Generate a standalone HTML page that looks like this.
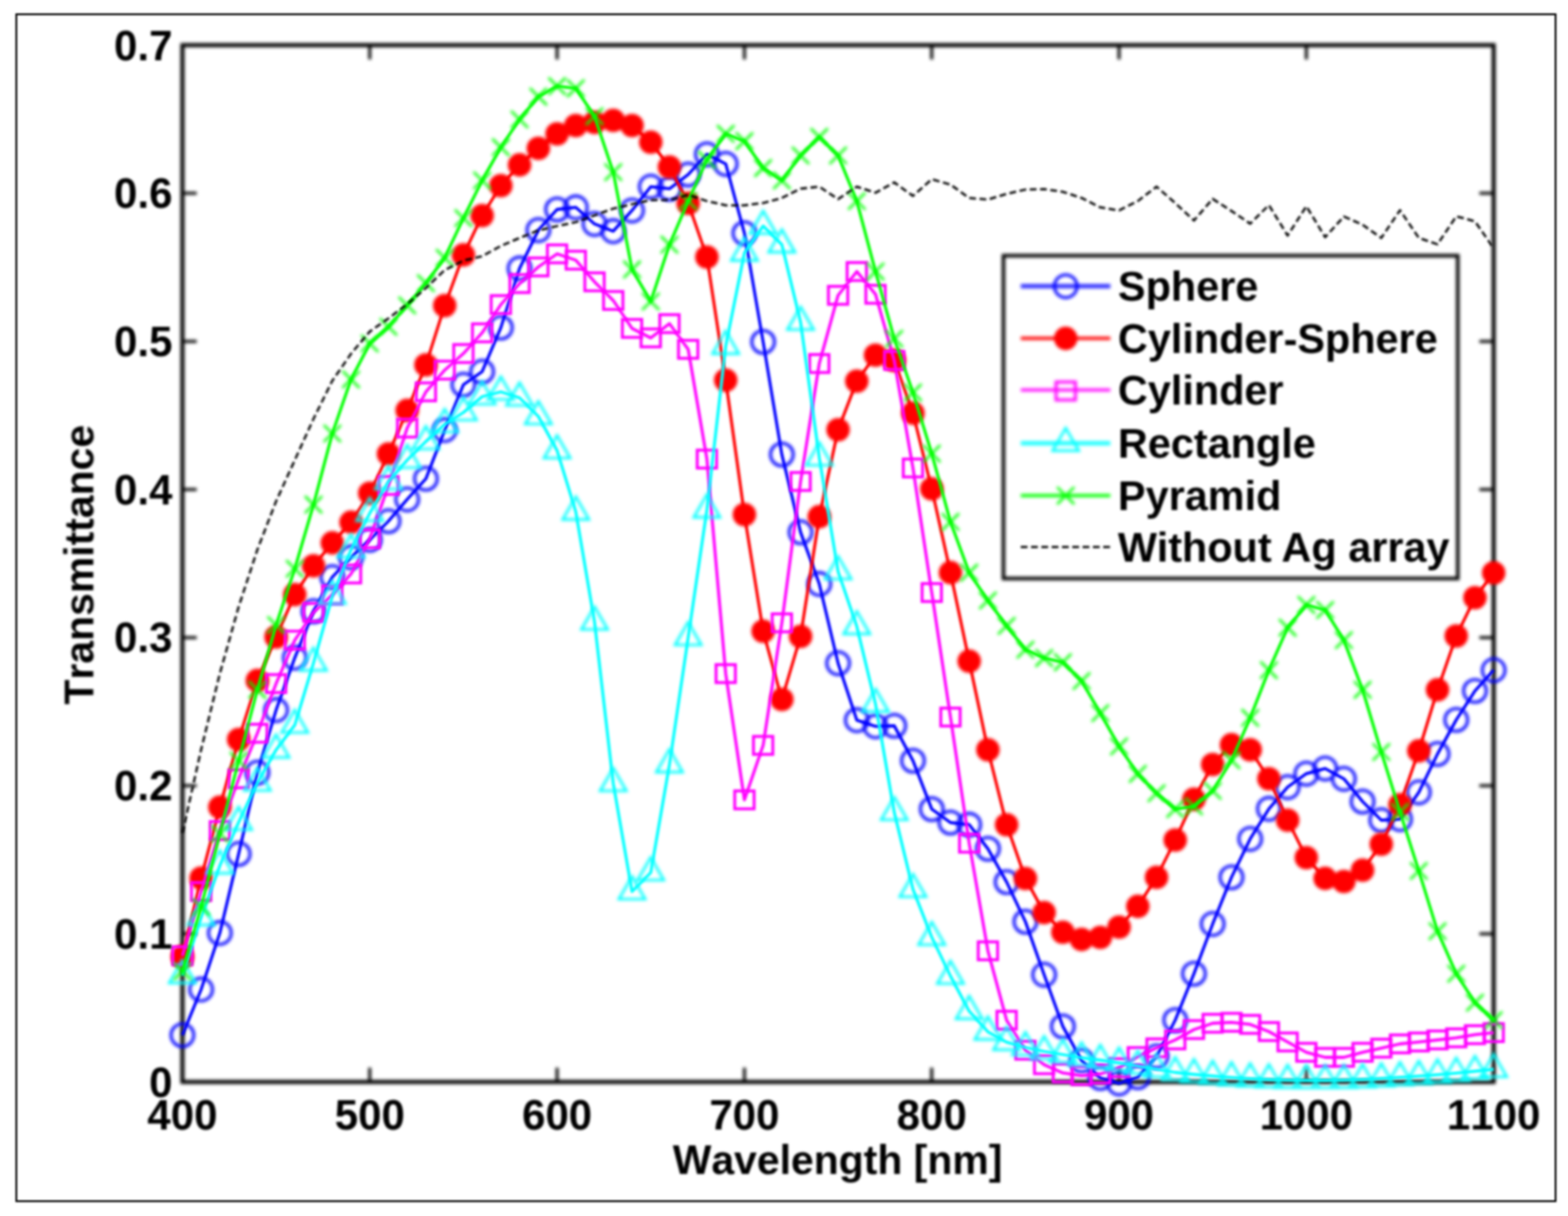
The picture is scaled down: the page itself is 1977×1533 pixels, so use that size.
<!DOCTYPE html>
<html lang="en">
<head>
<meta charset="utf-8">
<title>Transmittance vs Wavelength</title>
<style>
html,body{margin:0;padding:0;background:#fff;}
body{width:1977px;height:1533px;overflow:hidden;}
svg{display:block;}
text{font-family:"Liberation Sans",sans-serif;font-weight:bold;fill:#000;font-kerning:none;}
.tk{font-size:53.0px;}.tt{font-size:51.6px;}.lg{font-size:52.2px;}
.ln{fill:none;stroke-width:3.8;stroke-linejoin:round;stroke-linecap:butt;}
.mk{fill:none;}
.b{stroke:#0000ff;}.r{stroke:#ff0000;}.m{stroke:#ff00ff;}.c{stroke:#00ffff;}.g{stroke:#00ff00;}.k{stroke:#000;}
</style>
</head>
<body>
<svg width="1977" height="1533" viewBox="0 0 1977 1533">
<defs>
<filter id="fd" filterUnits="userSpaceOnUse" x="0" y="0" width="1977" height="1533" color-interpolation-filters="sRGB"><feGaussianBlur stdDeviation="1.9"/></filter>
<filter id="fl" filterUnits="userSpaceOnUse" x="0" y="0" width="1977" height="1533" color-interpolation-filters="sRGB"><feGaussianBlur stdDeviation="1.75"/></filter>
<filter id="fs" filterUnits="userSpaceOnUse" x="0" y="0" width="1977" height="1533" color-interpolation-filters="sRGB"><feGaussianBlur stdDeviation="1.5"/></filter>
<filter id="fa" filterUnits="userSpaceOnUse" x="0" y="0" width="1977" height="1533" color-interpolation-filters="sRGB"><feGaussianBlur stdDeviation="1.9"/></filter>
<filter id="ft" filterUnits="userSpaceOnUse" x="0" y="0" width="1977" height="1533" color-interpolation-filters="sRGB"><feGaussianBlur stdDeviation="1.5"/></filter>
<filter id="ff" filterUnits="userSpaceOnUse" x="0" y="0" width="1977" height="1533" color-interpolation-filters="sRGB"><feGaussianBlur stdDeviation="1.0"/></filter>
<filter id="fk" filterUnits="userSpaceOnUse" x="0" y="0" width="1977" height="1533" color-interpolation-filters="sRGB"><feGaussianBlur stdDeviation="1.6"/></filter>
</defs>
<rect x="0" y="0" width="1977" height="1533" fill="#fff"/>
<g id="frame" filter="url(#ff)"><rect x="20.6" y="18.0" width="1940.7" height="1496.3" fill="none" stroke="#000" stroke-width="2.3"/></g>
<g id="axes" filter="url(#fa)">
<g class="k" fill="none" stroke-width="3.6">
<line x1="466.2" y1="1364.0" x2="466.2" y2="1346"/>
<line x1="466.2" y1="56.9" x2="466.2" y2="74.9"/>
<line x1="702.4" y1="1364.0" x2="702.4" y2="1346"/>
<line x1="702.4" y1="56.9" x2="702.4" y2="74.9"/>
<line x1="938.6" y1="1364.0" x2="938.6" y2="1346"/>
<line x1="938.6" y1="56.9" x2="938.6" y2="74.9"/>
<line x1="1174.7" y1="1364.0" x2="1174.7" y2="1346"/>
<line x1="1174.7" y1="56.9" x2="1174.7" y2="74.9"/>
<line x1="1410.9" y1="1364.0" x2="1410.9" y2="1346"/>
<line x1="1410.9" y1="56.9" x2="1410.9" y2="74.9"/>
<line x1="1647.1" y1="1364.0" x2="1647.1" y2="1346"/>
<line x1="1647.1" y1="56.9" x2="1647.1" y2="74.9"/>
<line x1="230.0" y1="1177.3" x2="248" y2="1177.3"/>
<line x1="1883.3" y1="1177.3" x2="1865.3" y2="1177.3"/>
<line x1="230.0" y1="990.5" x2="248" y2="990.5"/>
<line x1="1883.3" y1="990.5" x2="1865.3" y2="990.5"/>
<line x1="230.0" y1="803.8" x2="248" y2="803.8"/>
<line x1="1883.3" y1="803.8" x2="1865.3" y2="803.8"/>
<line x1="230.0" y1="617.1" x2="248" y2="617.1"/>
<line x1="1883.3" y1="617.1" x2="1865.3" y2="617.1"/>
<line x1="230.0" y1="430.4" x2="248" y2="430.4"/>
<line x1="1883.3" y1="430.4" x2="1865.3" y2="430.4"/>
<line x1="230.0" y1="243.6" x2="248" y2="243.6"/>
<line x1="1883.3" y1="243.6" x2="1865.3" y2="243.6"/>
</g>
<rect x="230.0" y="56.9" width="1653.3" height="1307.1" fill="none" stroke="#000" stroke-width="5.0"/>
</g>
<g id="series">
<g id="sphere">
<g filter="url(#fl)"><polyline class="ln b" points="230,1305 253.6,1247.4 277.2,1176.2 300.9,1076.5 324.5,974 348.1,895.2 371.7,829.2 395.3,770.5 419,727.5 442.6,702.7 466.2,680.5 489.8,657 513.4,629.6 537,603.5 560.7,542.2 584.3,485 607.9,468.5 631.5,413 655.1,338.4 678.8,290.1 702.4,264 726,261.4 749.6,282.3 773.2,291.4 796.9,265.3 820.5,235.3 844.1,237.9 867.7,220 891.3,194.5 915,206.6 938.6,294 962.2,431 985.8,573 1009.4,671 1033,736.2 1056.7,836.1 1080.3,907.9 1103.9,915.7 1127.5,915 1151.1,959 1174.8,1020 1198.4,1037 1222,1039.7 1245.6,1070 1269.2,1112 1292.9,1162 1316.5,1228.8 1340.1,1294 1363.7,1337 1387.3,1359 1411,1365.8 1434.6,1358 1458.2,1331.8 1481.8,1286 1505.4,1227.5 1529,1164.8 1552.7,1106 1576.3,1057.6 1599.9,1019.7 1623.5,992.3 1647.1,975.3 1670.8,968.8 1694.4,981.8 1718,1010.5 1741.6,1034 1765.2,1032.7 1788.9,998.8 1812.5,950.5 1836.1,907.5 1859.7,871 1883.3,844.8"/></g>
<g class="mk b" stroke-width="3.6" filter="url(#fd)">
<circle cx="230" cy="1305" r="14.3"/>
<circle cx="253.6" cy="1247.4" r="14.3"/>
<circle cx="277.2" cy="1176.2" r="14.3"/>
<circle cx="300.9" cy="1076.5" r="14.3"/>
<circle cx="324.5" cy="974" r="14.3"/>
<circle cx="348.1" cy="895.2" r="14.3"/>
<circle cx="371.7" cy="829.2" r="14.3"/>
<circle cx="395.3" cy="770.5" r="14.3"/>
<circle cx="419" cy="727.5" r="14.3"/>
<circle cx="442.6" cy="702.7" r="14.3"/>
<circle cx="466.2" cy="680.5" r="14.3"/>
<circle cx="489.8" cy="657" r="14.3"/>
<circle cx="513.4" cy="629.6" r="14.3"/>
<circle cx="537" cy="603.5" r="14.3"/>
<circle cx="560.7" cy="542.2" r="14.3"/>
<circle cx="584.3" cy="485" r="14.3"/>
<circle cx="607.9" cy="468.5" r="14.3"/>
<circle cx="631.5" cy="413" r="14.3"/>
<circle cx="655.1" cy="338.4" r="14.3"/>
<circle cx="678.8" cy="290.1" r="14.3"/>
<circle cx="702.4" cy="264" r="14.3"/>
<circle cx="726" cy="261.4" r="14.3"/>
<circle cx="749.6" cy="282.3" r="14.3"/>
<circle cx="773.2" cy="291.4" r="14.3"/>
<circle cx="796.9" cy="265.3" r="14.3"/>
<circle cx="820.5" cy="235.3" r="14.3"/>
<circle cx="844.1" cy="237.9" r="14.3"/>
<circle cx="867.7" cy="220" r="14.3"/>
<circle cx="891.3" cy="194.5" r="14.3"/>
<circle cx="915" cy="206.6" r="14.3"/>
<circle cx="938.6" cy="294" r="14.3"/>
<circle cx="962.2" cy="431" r="14.3"/>
<circle cx="985.8" cy="573" r="14.3"/>
<circle cx="1009.4" cy="671" r="14.3"/>
<circle cx="1033" cy="736.2" r="14.3"/>
<circle cx="1056.7" cy="836.1" r="14.3"/>
<circle cx="1080.3" cy="907.9" r="14.3"/>
<circle cx="1103.9" cy="915.7" r="14.3"/>
<circle cx="1127.5" cy="915" r="14.3"/>
<circle cx="1151.1" cy="959" r="14.3"/>
<circle cx="1174.8" cy="1020" r="14.3"/>
<circle cx="1198.4" cy="1037" r="14.3"/>
<circle cx="1222" cy="1039.7" r="14.3"/>
<circle cx="1245.6" cy="1070" r="14.3"/>
<circle cx="1269.2" cy="1112" r="14.3"/>
<circle cx="1292.9" cy="1162" r="14.3"/>
<circle cx="1316.5" cy="1228.8" r="14.3"/>
<circle cx="1340.1" cy="1294" r="14.3"/>
<circle cx="1363.7" cy="1337" r="14.3"/>
<circle cx="1387.3" cy="1359" r="14.3"/>
<circle cx="1411" cy="1365.8" r="14.3"/>
<circle cx="1434.6" cy="1358" r="14.3"/>
<circle cx="1458.2" cy="1331.8" r="14.3"/>
<circle cx="1481.8" cy="1286" r="14.3"/>
<circle cx="1505.4" cy="1227.5" r="14.3"/>
<circle cx="1529" cy="1164.8" r="14.3"/>
<circle cx="1552.7" cy="1106" r="14.3"/>
<circle cx="1576.3" cy="1057.6" r="14.3"/>
<circle cx="1599.9" cy="1019.7" r="14.3"/>
<circle cx="1623.5" cy="992.3" r="14.3"/>
<circle cx="1647.1" cy="975.3" r="14.3"/>
<circle cx="1670.8" cy="968.8" r="14.3"/>
<circle cx="1694.4" cy="981.8" r="14.3"/>
<circle cx="1718" cy="1010.5" r="14.3"/>
<circle cx="1741.6" cy="1034" r="14.3"/>
<circle cx="1765.2" cy="1032.7" r="14.3"/>
<circle cx="1788.9" cy="998.8" r="14.3"/>
<circle cx="1812.5" cy="950.5" r="14.3"/>
<circle cx="1836.1" cy="907.5" r="14.3"/>
<circle cx="1859.7" cy="871" r="14.3"/>
<circle cx="1883.3" cy="844.8" r="14.3"/>
</g></g>
<g id="cylsphere">
<g filter="url(#fl)"><polyline class="ln r" points="230,1206 253.6,1107 277.2,1017.6 300.9,932.3 324.5,857.9 348.1,803 371.7,749.6 395.3,713.2 419,684.4 442.6,658.4 466.2,621.8 489.8,572.2 513.4,517.4 537,460 560.7,385.3 584.3,321.4 607.9,271.8 631.5,234 655.1,207.9 678.8,187 702.4,168.7 726,158.3 749.6,154.4 773.2,151.8 796.9,158.3 820.5,179.2 844.1,210.5 867.7,256.2 891.3,324 915,479.2 938.6,648.8 962.2,795.7 985.8,881.8 1009.4,802.2 1033,651.4 1056.7,541.8 1080.3,480.5 1103.9,447.8 1127.5,454.4 1151.1,520.9 1174.8,616.2 1198.4,721.9 1222,833.5 1245.6,945.2 1269.2,1039.7 1292.9,1107.5 1316.5,1150.5 1340.1,1175.3 1363.7,1184.4 1387.3,1181.8 1411,1168.7 1434.6,1142.6 1458.2,1106 1481.8,1059 1505.4,1007.5 1529,963.8 1552.7,938.9 1576.3,945.3 1599.9,981.8 1623.5,1034 1647.1,1081.2 1670.8,1107.4 1694.4,1111.3 1718,1097 1741.6,1064.2 1765.2,1014.5 1788.9,946.6 1812.5,869.6 1836.1,801.8 1859.7,753.5 1883.3,722.2"/></g>
<g class="mk r" stroke-width="0" filter="url(#fd)">
<circle cx="230" cy="1206" r="14.8" fill="#ff0000" stroke="none"/>
<circle cx="253.6" cy="1107" r="14.8" fill="#ff0000" stroke="none"/>
<circle cx="277.2" cy="1017.6" r="14.8" fill="#ff0000" stroke="none"/>
<circle cx="300.9" cy="932.3" r="14.8" fill="#ff0000" stroke="none"/>
<circle cx="324.5" cy="857.9" r="14.8" fill="#ff0000" stroke="none"/>
<circle cx="348.1" cy="803" r="14.8" fill="#ff0000" stroke="none"/>
<circle cx="371.7" cy="749.6" r="14.8" fill="#ff0000" stroke="none"/>
<circle cx="395.3" cy="713.2" r="14.8" fill="#ff0000" stroke="none"/>
<circle cx="419" cy="684.4" r="14.8" fill="#ff0000" stroke="none"/>
<circle cx="442.6" cy="658.4" r="14.8" fill="#ff0000" stroke="none"/>
<circle cx="466.2" cy="621.8" r="14.8" fill="#ff0000" stroke="none"/>
<circle cx="489.8" cy="572.2" r="14.8" fill="#ff0000" stroke="none"/>
<circle cx="513.4" cy="517.4" r="14.8" fill="#ff0000" stroke="none"/>
<circle cx="537" cy="460" r="14.8" fill="#ff0000" stroke="none"/>
<circle cx="560.7" cy="385.3" r="14.8" fill="#ff0000" stroke="none"/>
<circle cx="584.3" cy="321.4" r="14.8" fill="#ff0000" stroke="none"/>
<circle cx="607.9" cy="271.8" r="14.8" fill="#ff0000" stroke="none"/>
<circle cx="631.5" cy="234" r="14.8" fill="#ff0000" stroke="none"/>
<circle cx="655.1" cy="207.9" r="14.8" fill="#ff0000" stroke="none"/>
<circle cx="678.8" cy="187" r="14.8" fill="#ff0000" stroke="none"/>
<circle cx="702.4" cy="168.7" r="14.8" fill="#ff0000" stroke="none"/>
<circle cx="726" cy="158.3" r="14.8" fill="#ff0000" stroke="none"/>
<circle cx="749.6" cy="154.4" r="14.8" fill="#ff0000" stroke="none"/>
<circle cx="773.2" cy="151.8" r="14.8" fill="#ff0000" stroke="none"/>
<circle cx="796.9" cy="158.3" r="14.8" fill="#ff0000" stroke="none"/>
<circle cx="820.5" cy="179.2" r="14.8" fill="#ff0000" stroke="none"/>
<circle cx="844.1" cy="210.5" r="14.8" fill="#ff0000" stroke="none"/>
<circle cx="867.7" cy="256.2" r="14.8" fill="#ff0000" stroke="none"/>
<circle cx="891.3" cy="324" r="14.8" fill="#ff0000" stroke="none"/>
<circle cx="915" cy="479.2" r="14.8" fill="#ff0000" stroke="none"/>
<circle cx="938.6" cy="648.8" r="14.8" fill="#ff0000" stroke="none"/>
<circle cx="962.2" cy="795.7" r="14.8" fill="#ff0000" stroke="none"/>
<circle cx="985.8" cy="881.8" r="14.8" fill="#ff0000" stroke="none"/>
<circle cx="1009.4" cy="802.2" r="14.8" fill="#ff0000" stroke="none"/>
<circle cx="1033" cy="651.4" r="14.8" fill="#ff0000" stroke="none"/>
<circle cx="1056.7" cy="541.8" r="14.8" fill="#ff0000" stroke="none"/>
<circle cx="1080.3" cy="480.5" r="14.8" fill="#ff0000" stroke="none"/>
<circle cx="1103.9" cy="447.8" r="14.8" fill="#ff0000" stroke="none"/>
<circle cx="1127.5" cy="454.4" r="14.8" fill="#ff0000" stroke="none"/>
<circle cx="1151.1" cy="520.9" r="14.8" fill="#ff0000" stroke="none"/>
<circle cx="1174.8" cy="616.2" r="14.8" fill="#ff0000" stroke="none"/>
<circle cx="1198.4" cy="721.9" r="14.8" fill="#ff0000" stroke="none"/>
<circle cx="1222" cy="833.5" r="14.8" fill="#ff0000" stroke="none"/>
<circle cx="1245.6" cy="945.2" r="14.8" fill="#ff0000" stroke="none"/>
<circle cx="1269.2" cy="1039.7" r="14.8" fill="#ff0000" stroke="none"/>
<circle cx="1292.9" cy="1107.5" r="14.8" fill="#ff0000" stroke="none"/>
<circle cx="1316.5" cy="1150.5" r="14.8" fill="#ff0000" stroke="none"/>
<circle cx="1340.1" cy="1175.3" r="14.8" fill="#ff0000" stroke="none"/>
<circle cx="1363.7" cy="1184.4" r="14.8" fill="#ff0000" stroke="none"/>
<circle cx="1387.3" cy="1181.8" r="14.8" fill="#ff0000" stroke="none"/>
<circle cx="1411" cy="1168.7" r="14.8" fill="#ff0000" stroke="none"/>
<circle cx="1434.6" cy="1142.6" r="14.8" fill="#ff0000" stroke="none"/>
<circle cx="1458.2" cy="1106" r="14.8" fill="#ff0000" stroke="none"/>
<circle cx="1481.8" cy="1059" r="14.8" fill="#ff0000" stroke="none"/>
<circle cx="1505.4" cy="1007.5" r="14.8" fill="#ff0000" stroke="none"/>
<circle cx="1529" cy="963.8" r="14.8" fill="#ff0000" stroke="none"/>
<circle cx="1552.7" cy="938.9" r="14.8" fill="#ff0000" stroke="none"/>
<circle cx="1576.3" cy="945.3" r="14.8" fill="#ff0000" stroke="none"/>
<circle cx="1599.9" cy="981.8" r="14.8" fill="#ff0000" stroke="none"/>
<circle cx="1623.5" cy="1034" r="14.8" fill="#ff0000" stroke="none"/>
<circle cx="1647.1" cy="1081.2" r="14.8" fill="#ff0000" stroke="none"/>
<circle cx="1670.8" cy="1107.4" r="14.8" fill="#ff0000" stroke="none"/>
<circle cx="1694.4" cy="1111.3" r="14.8" fill="#ff0000" stroke="none"/>
<circle cx="1718" cy="1097" r="14.8" fill="#ff0000" stroke="none"/>
<circle cx="1741.6" cy="1064.2" r="14.8" fill="#ff0000" stroke="none"/>
<circle cx="1765.2" cy="1014.5" r="14.8" fill="#ff0000" stroke="none"/>
<circle cx="1788.9" cy="946.6" r="14.8" fill="#ff0000" stroke="none"/>
<circle cx="1812.5" cy="869.6" r="14.8" fill="#ff0000" stroke="none"/>
<circle cx="1836.1" cy="801.8" r="14.8" fill="#ff0000" stroke="none"/>
<circle cx="1859.7" cy="753.5" r="14.8" fill="#ff0000" stroke="none"/>
<circle cx="1883.3" cy="722.2" r="14.8" fill="#ff0000" stroke="none"/>
</g></g>
<g id="cylinder">
<g filter="url(#fl)"><polyline class="ln m" points="230,1205 253.6,1124 277.2,1047 300.9,981.8 324.5,924.4 348.1,861.8 371.7,807 395.3,772 419,750 442.6,723.6 466.2,679.2 489.8,612 513.4,539.7 537,494 560.7,466.6 584.3,445.7 607.9,419.6 631.5,384 655.1,357.5 678.8,336.5 702.4,320 726,328 749.6,355.3 773.2,378.8 796.9,414 820.5,426 844.1,408 867.7,440.4 891.3,578.8 915,849.2 938.6,1008.4 962.2,939.7 985.8,785.2 1009.4,607 1033,458.3 1056.7,372.3 1080.3,342.3 1103.9,371 1127.5,454.4 1151.1,590 1174.8,747 1198.4,904 1222,1063 1245.6,1198.7 1269.2,1286.2 1292.9,1324 1316.5,1342.3 1340.1,1352.7 1363.7,1356 1387.3,1354 1411,1346 1434.6,1332 1458.2,1321 1481.8,1311 1505.4,1298 1529,1290 1552.7,1288.8 1576.3,1291.4 1599.9,1300.5 1623.5,1313.6 1647.1,1326.6 1670.8,1333 1694.4,1333 1718,1326.6 1741.6,1321.4 1765.2,1316 1788.9,1313.6 1812.5,1311 1836.1,1308.4 1859.7,1304.4 1883.3,1301.8"/></g>
<g class="mk m" stroke-width="3.7" filter="url(#fs)">
<rect x="217.8" y="1193.7" width="24.4" height="22.6"/>
<rect x="241.4" y="1112.7" width="24.4" height="22.6"/>
<rect x="265" y="1035.7" width="24.4" height="22.6"/>
<rect x="288.7" y="970.5" width="24.4" height="22.6"/>
<rect x="312.3" y="913.1" width="24.4" height="22.6"/>
<rect x="335.9" y="850.5" width="24.4" height="22.6"/>
<rect x="359.5" y="795.7" width="24.4" height="22.6"/>
<rect x="383.1" y="760.7" width="24.4" height="22.6"/>
<rect x="406.8" y="738.7" width="24.4" height="22.6"/>
<rect x="430.4" y="712.3" width="24.4" height="22.6"/>
<rect x="454" y="667.9" width="24.4" height="22.6"/>
<rect x="477.6" y="600.7" width="24.4" height="22.6"/>
<rect x="501.2" y="528.4" width="24.4" height="22.6"/>
<rect x="524.8" y="482.7" width="24.4" height="22.6"/>
<rect x="548.5" y="455.3" width="24.4" height="22.6"/>
<rect x="572.1" y="434.4" width="24.4" height="22.6"/>
<rect x="595.7" y="408.3" width="24.4" height="22.6"/>
<rect x="619.3" y="372.7" width="24.4" height="22.6"/>
<rect x="642.9" y="346.2" width="24.4" height="22.6"/>
<rect x="666.6" y="325.2" width="24.4" height="22.6"/>
<rect x="690.2" y="308.7" width="24.4" height="22.6"/>
<rect x="713.8" y="316.7" width="24.4" height="22.6"/>
<rect x="737.4" y="344" width="24.4" height="22.6"/>
<rect x="761" y="367.5" width="24.4" height="22.6"/>
<rect x="784.7" y="402.7" width="24.4" height="22.6"/>
<rect x="808.3" y="414.7" width="24.4" height="22.6"/>
<rect x="831.9" y="396.7" width="24.4" height="22.6"/>
<rect x="855.5" y="429.1" width="24.4" height="22.6"/>
<rect x="879.1" y="567.5" width="24.4" height="22.6"/>
<rect x="902.8" y="837.9" width="24.4" height="22.6"/>
<rect x="926.4" y="997.1" width="24.4" height="22.6"/>
<rect x="950" y="928.4" width="24.4" height="22.6"/>
<rect x="973.6" y="773.9" width="24.4" height="22.6"/>
<rect x="997.2" y="595.7" width="24.4" height="22.6"/>
<rect x="1020.8" y="447" width="24.4" height="22.6"/>
<rect x="1044.5" y="361" width="24.4" height="22.6"/>
<rect x="1068.1" y="331" width="24.4" height="22.6"/>
<rect x="1091.7" y="359.7" width="24.4" height="22.6"/>
<rect x="1115.3" y="443.1" width="24.4" height="22.6"/>
<rect x="1138.9" y="578.7" width="24.4" height="22.6"/>
<rect x="1162.6" y="735.7" width="24.4" height="22.6"/>
<rect x="1186.2" y="892.7" width="24.4" height="22.6"/>
<rect x="1209.8" y="1051.7" width="24.4" height="22.6"/>
<rect x="1233.4" y="1187.4" width="24.4" height="22.6"/>
<rect x="1257" y="1274.9" width="24.4" height="22.6"/>
<rect x="1280.7" y="1312.7" width="24.4" height="22.6"/>
<rect x="1304.3" y="1331" width="24.4" height="22.6"/>
<rect x="1327.9" y="1341.4" width="24.4" height="22.6"/>
<rect x="1351.5" y="1344.7" width="24.4" height="22.6"/>
<rect x="1375.1" y="1342.7" width="24.4" height="22.6"/>
<rect x="1398.8" y="1334.7" width="24.4" height="22.6"/>
<rect x="1422.4" y="1320.7" width="24.4" height="22.6"/>
<rect x="1446" y="1309.7" width="24.4" height="22.6"/>
<rect x="1469.6" y="1299.7" width="24.4" height="22.6"/>
<rect x="1493.2" y="1286.7" width="24.4" height="22.6"/>
<rect x="1516.8" y="1278.7" width="24.4" height="22.6"/>
<rect x="1540.5" y="1277.5" width="24.4" height="22.6"/>
<rect x="1564.1" y="1280.1" width="24.4" height="22.6"/>
<rect x="1587.7" y="1289.2" width="24.4" height="22.6"/>
<rect x="1611.3" y="1302.3" width="24.4" height="22.6"/>
<rect x="1634.9" y="1315.3" width="24.4" height="22.6"/>
<rect x="1658.6" y="1321.7" width="24.4" height="22.6"/>
<rect x="1682.2" y="1321.7" width="24.4" height="22.6"/>
<rect x="1705.8" y="1315.3" width="24.4" height="22.6"/>
<rect x="1729.4" y="1310.1" width="24.4" height="22.6"/>
<rect x="1753" y="1304.7" width="24.4" height="22.6"/>
<rect x="1776.7" y="1302.3" width="24.4" height="22.6"/>
<rect x="1800.3" y="1299.7" width="24.4" height="22.6"/>
<rect x="1823.9" y="1297.1" width="24.4" height="22.6"/>
<rect x="1847.5" y="1293.1" width="24.4" height="22.6"/>
<rect x="1871.1" y="1290.5" width="24.4" height="22.6"/>
</g></g>
<g id="rectangle">
<g filter="url(#fl)"><polyline class="ln c" points="230,1229.6 253.6,1156.6 277.2,1091.3 300.9,1036.5 324.5,987 348.1,945.3 371.7,914 395.3,835.7 419,751.5 442.6,693 466.2,647 489.8,607 513.4,580 537,556.5 560.7,535 584.3,520 607.9,500 631.5,494 655.1,501.5 678.8,525 702.4,568 726,645.3 749.6,784 773.2,987.5 796.9,1124 820.5,1100 844.1,963.8 867.7,803.5 891.3,642.7 915,436.3 938.6,318.8 962.2,284.9 985.8,308.4 1009.4,406 1033,577 1056.7,720.5 1080.3,789.7 1103.9,887.6 1127.5,1024 1151.1,1121 1174.8,1181.5 1198.4,1230.5 1222,1274.8 1245.6,1300.8 1269.2,1313.8 1292.9,1320.5 1316.5,1325.5 1340.1,1329.5 1363.7,1333.5 1387.3,1336.5 1411,1340 1434.6,1344 1458.2,1348 1481.8,1352 1505.4,1354.5 1529,1356.5 1552.7,1358.3 1576.3,1359.8 1599.9,1361 1623.5,1361.7 1647.1,1362 1670.8,1362 1694.4,1361.6 1718,1360.8 1741.6,1359.6 1765.2,1358.2 1788.9,1356.6 1812.5,1354.8 1836.1,1352.8 1859.7,1350.5 1883.3,1348"/></g>
<g class="mk c" stroke-width="3.2" filter="url(#fd)">
<polyline points="230,1210.6 246.5,1239.1 213.5,1239.1 230,1210.6 246.5,1239.1"/>
<polyline points="253.6,1137.6 270.1,1166.1 237.1,1166.1 253.6,1137.6 270.1,1166.1"/>
<polyline points="277.2,1072.3 293.7,1100.8 260.7,1100.8 277.2,1072.3 293.7,1100.8"/>
<polyline points="300.9,1017.5 317.4,1046 284.4,1046 300.9,1017.5 317.4,1046"/>
<polyline points="324.5,968 341,996.5 308,996.5 324.5,968 341,996.5"/>
<polyline points="348.1,926.3 364.6,954.8 331.6,954.8 348.1,926.3 364.6,954.8"/>
<polyline points="371.7,895 388.2,923.5 355.2,923.5 371.7,895 388.2,923.5"/>
<polyline points="395.3,816.7 411.8,845.2 378.8,845.2 395.3,816.7 411.8,845.2"/>
<polyline points="419,732.5 435.5,761 402.5,761 419,732.5 435.5,761"/>
<polyline points="442.6,674 459.1,702.5 426.1,702.5 442.6,674 459.1,702.5"/>
<polyline points="466.2,628 482.7,656.5 449.7,656.5 466.2,628 482.7,656.5"/>
<polyline points="489.8,588 506.3,616.5 473.3,616.5 489.8,588 506.3,616.5"/>
<polyline points="513.4,561 529.9,589.5 496.9,589.5 513.4,561 529.9,589.5"/>
<polyline points="537,537.5 553.5,566 520.5,566 537,537.5 553.5,566"/>
<polyline points="560.7,516 577.2,544.5 544.2,544.5 560.7,516 577.2,544.5"/>
<polyline points="584.3,501 600.8,529.5 567.8,529.5 584.3,501 600.8,529.5"/>
<polyline points="607.9,481 624.4,509.5 591.4,509.5 607.9,481 624.4,509.5"/>
<polyline points="631.5,475 648,503.5 615,503.5 631.5,475 648,503.5"/>
<polyline points="655.1,482.5 671.6,511 638.6,511 655.1,482.5 671.6,511"/>
<polyline points="678.8,506 695.3,534.5 662.3,534.5 678.8,506 695.3,534.5"/>
<polyline points="702.4,549 718.9,577.5 685.9,577.5 702.4,549 718.9,577.5"/>
<polyline points="726,626.3 742.5,654.8 709.5,654.8 726,626.3 742.5,654.8"/>
<polyline points="749.6,765 766.1,793.5 733.1,793.5 749.6,765 766.1,793.5"/>
<polyline points="773.2,968.5 789.7,997 756.7,997 773.2,968.5 789.7,997"/>
<polyline points="796.9,1105 813.4,1133.5 780.4,1133.5 796.9,1105 813.4,1133.5"/>
<polyline points="820.5,1081 837,1109.5 804,1109.5 820.5,1081 837,1109.5"/>
<polyline points="844.1,944.8 860.6,973.3 827.6,973.3 844.1,944.8 860.6,973.3"/>
<polyline points="867.7,784.5 884.2,813 851.2,813 867.7,784.5 884.2,813"/>
<polyline points="891.3,623.7 907.8,652.2 874.8,652.2 891.3,623.7 907.8,652.2"/>
<polyline points="915,417.3 931.5,445.8 898.5,445.8 915,417.3 931.5,445.8"/>
<polyline points="938.6,299.8 955.1,328.3 922.1,328.3 938.6,299.8 955.1,328.3"/>
<polyline points="962.2,265.9 978.7,294.4 945.7,294.4 962.2,265.9 978.7,294.4"/>
<polyline points="985.8,289.4 1002.3,317.9 969.3,317.9 985.8,289.4 1002.3,317.9"/>
<polyline points="1009.4,387 1025.9,415.5 992.9,415.5 1009.4,387 1025.9,415.5"/>
<polyline points="1033,558 1049.5,586.5 1016.5,586.5 1033,558 1049.5,586.5"/>
<polyline points="1056.7,701.5 1073.2,730 1040.2,730 1056.7,701.5 1073.2,730"/>
<polyline points="1080.3,770.7 1096.8,799.2 1063.8,799.2 1080.3,770.7 1096.8,799.2"/>
<polyline points="1103.9,868.6 1120.4,897.1 1087.4,897.1 1103.9,868.6 1120.4,897.1"/>
<polyline points="1127.5,1005 1144,1033.5 1111,1033.5 1127.5,1005 1144,1033.5"/>
<polyline points="1151.1,1102 1167.6,1130.5 1134.6,1130.5 1151.1,1102 1167.6,1130.5"/>
<polyline points="1174.8,1162.5 1191.3,1191 1158.3,1191 1174.8,1162.5 1191.3,1191"/>
<polyline points="1198.4,1211.5 1214.9,1240 1181.9,1240 1198.4,1211.5 1214.9,1240"/>
<polyline points="1222,1255.8 1238.5,1284.3 1205.5,1284.3 1222,1255.8 1238.5,1284.3"/>
<polyline points="1245.6,1281.8 1262.1,1310.3 1229.1,1310.3 1245.6,1281.8 1262.1,1310.3"/>
<polyline points="1269.2,1294.8 1285.7,1323.3 1252.7,1323.3 1269.2,1294.8 1285.7,1323.3"/>
<polyline points="1292.9,1301.5 1309.4,1330 1276.4,1330 1292.9,1301.5 1309.4,1330"/>
<polyline points="1316.5,1306.5 1333,1335 1300,1335 1316.5,1306.5 1333,1335"/>
<polyline points="1340.1,1310.5 1356.6,1339 1323.6,1339 1340.1,1310.5 1356.6,1339"/>
<polyline points="1363.7,1314.5 1380.2,1343 1347.2,1343 1363.7,1314.5 1380.2,1343"/>
<polyline points="1387.3,1317.5 1403.8,1346 1370.8,1346 1387.3,1317.5 1403.8,1346"/>
<polyline points="1411,1321 1427.5,1349.5 1394.5,1349.5 1411,1321 1427.5,1349.5"/>
<polyline points="1434.6,1325 1451.1,1353.5 1418.1,1353.5 1434.6,1325 1451.1,1353.5"/>
<polyline points="1458.2,1329 1474.7,1357.5 1441.7,1357.5 1458.2,1329 1474.7,1357.5"/>
<polyline points="1481.8,1333 1498.3,1361.5 1465.3,1361.5 1481.8,1333 1498.3,1361.5"/>
<polyline points="1505.4,1335.5 1521.9,1364 1488.9,1364 1505.4,1335.5 1521.9,1364"/>
<polyline points="1529,1337.5 1545.5,1366 1512.5,1366 1529,1337.5 1545.5,1366"/>
<polyline points="1552.7,1339.3 1569.2,1367.8 1536.2,1367.8 1552.7,1339.3 1569.2,1367.8"/>
<polyline points="1576.3,1340.8 1592.8,1369.3 1559.8,1369.3 1576.3,1340.8 1592.8,1369.3"/>
<polyline points="1599.9,1342 1616.4,1370.5 1583.4,1370.5 1599.9,1342 1616.4,1370.5"/>
<polyline points="1623.5,1342.7 1640,1371.2 1607,1371.2 1623.5,1342.7 1640,1371.2"/>
<polyline points="1647.1,1343 1663.6,1371.5 1630.6,1371.5 1647.1,1343 1663.6,1371.5"/>
<polyline points="1670.8,1343 1687.3,1371.5 1654.3,1371.5 1670.8,1343 1687.3,1371.5"/>
<polyline points="1694.4,1342.6 1710.9,1371.1 1677.9,1371.1 1694.4,1342.6 1710.9,1371.1"/>
<polyline points="1718,1341.8 1734.5,1370.3 1701.5,1370.3 1718,1341.8 1734.5,1370.3"/>
<polyline points="1741.6,1340.6 1758.1,1369.1 1725.1,1369.1 1741.6,1340.6 1758.1,1369.1"/>
<polyline points="1765.2,1339.2 1781.7,1367.7 1748.7,1367.7 1765.2,1339.2 1781.7,1367.7"/>
<polyline points="1788.9,1337.6 1805.4,1366.1 1772.4,1366.1 1788.9,1337.6 1805.4,1366.1"/>
<polyline points="1812.5,1335.8 1829,1364.3 1796,1364.3 1812.5,1335.8 1829,1364.3"/>
<polyline points="1836.1,1333.8 1852.6,1362.3 1819.6,1362.3 1836.1,1333.8 1852.6,1362.3"/>
<polyline points="1859.7,1331.5 1876.2,1360 1843.2,1360 1859.7,1331.5 1876.2,1360"/>
<polyline points="1883.3,1329 1899.8,1357.5 1866.8,1357.5 1883.3,1329 1899.8,1357.5"/>
</g></g>
<g id="pyramid">
<g filter="url(#fl)"><polyline class="ln g" points="230,1224.4 253.6,1143.5 277.2,1051 300.9,959 324.5,869.6 348.1,788 371.7,717 395.3,636.2 419,546.5 442.6,478.3 466.2,433 489.8,412 513.4,385 537,357 560.7,325 584.3,275 607.9,227.5 631.5,185.7 655.1,150.5 678.8,121.8 702.4,108.7 726,111.3 749.6,146.6 773.2,217 796.9,339.7 820.5,380 844.1,308.4 867.7,253.5 891.3,201.4 915,168.7 938.6,177.9 962.2,211.8 985.8,227.5 1009.4,196 1033,172.7 1056.7,196 1080.3,253.5 1103.9,342.3 1127.5,427 1151.1,494.8 1174.8,571.8 1198.4,657.9 1222,721.9 1245.6,757 1269.2,789 1292.9,819 1316.5,829.6 1340.1,834.8 1363.7,858.5 1387.3,899 1411,941 1434.6,975.6 1458.2,1000 1481.8,1020 1505.4,1016.5 1529,997 1552.7,958.4 1576.3,904.9 1599.9,844.8 1623.5,791.3 1647.1,762.6 1670.8,769 1694.4,807 1718,869.6 1741.6,948 1765.2,1023.6 1788.9,1098 1812.5,1174 1836.1,1227.5 1859.7,1264 1883.3,1286"/></g>
<g class="mk g" stroke-width="3.0" filter="url(#fd)">
<line x1="219.2" y1="1213.6" x2="240.8" y2="1235.2"/><line x1="219.2" y1="1235.2" x2="240.8" y2="1213.6"/>
<line x1="242.8" y1="1132.7" x2="264.4" y2="1154.3"/><line x1="242.8" y1="1154.3" x2="264.4" y2="1132.7"/>
<line x1="266.4" y1="1040.2" x2="288" y2="1061.8"/><line x1="266.4" y1="1061.8" x2="288" y2="1040.2"/>
<line x1="290.1" y1="948.2" x2="311.7" y2="969.8"/><line x1="290.1" y1="969.8" x2="311.7" y2="948.2"/>
<line x1="313.7" y1="858.8" x2="335.3" y2="880.4"/><line x1="313.7" y1="880.4" x2="335.3" y2="858.8"/>
<line x1="337.3" y1="777.2" x2="358.9" y2="798.8"/><line x1="337.3" y1="798.8" x2="358.9" y2="777.2"/>
<line x1="360.9" y1="706.2" x2="382.5" y2="727.8"/><line x1="360.9" y1="727.8" x2="382.5" y2="706.2"/>
<line x1="384.5" y1="625.4" x2="406.1" y2="647"/><line x1="384.5" y1="647" x2="406.1" y2="625.4"/>
<line x1="408.2" y1="535.7" x2="429.8" y2="557.3"/><line x1="408.2" y1="557.3" x2="429.8" y2="535.7"/>
<line x1="431.8" y1="467.5" x2="453.4" y2="489.1"/><line x1="431.8" y1="489.1" x2="453.4" y2="467.5"/>
<line x1="455.4" y1="422.2" x2="477" y2="443.8"/><line x1="455.4" y1="443.8" x2="477" y2="422.2"/>
<line x1="479" y1="401.2" x2="500.6" y2="422.8"/><line x1="479" y1="422.8" x2="500.6" y2="401.2"/>
<line x1="502.6" y1="374.2" x2="524.2" y2="395.8"/><line x1="502.6" y1="395.8" x2="524.2" y2="374.2"/>
<line x1="526.2" y1="346.2" x2="547.8" y2="367.8"/><line x1="526.2" y1="367.8" x2="547.8" y2="346.2"/>
<line x1="549.9" y1="314.2" x2="571.5" y2="335.8"/><line x1="549.9" y1="335.8" x2="571.5" y2="314.2"/>
<line x1="573.5" y1="264.2" x2="595.1" y2="285.8"/><line x1="573.5" y1="285.8" x2="595.1" y2="264.2"/>
<line x1="597.1" y1="216.7" x2="618.7" y2="238.3"/><line x1="597.1" y1="238.3" x2="618.7" y2="216.7"/>
<line x1="620.7" y1="174.9" x2="642.3" y2="196.5"/><line x1="620.7" y1="196.5" x2="642.3" y2="174.9"/>
<line x1="644.3" y1="139.7" x2="665.9" y2="161.3"/><line x1="644.3" y1="161.3" x2="665.9" y2="139.7"/>
<line x1="668" y1="111" x2="689.6" y2="132.6"/><line x1="668" y1="132.6" x2="689.6" y2="111"/>
<line x1="691.6" y1="97.9" x2="713.2" y2="119.5"/><line x1="691.6" y1="119.5" x2="713.2" y2="97.9"/>
<line x1="715.2" y1="100.5" x2="736.8" y2="122.1"/><line x1="715.2" y1="122.1" x2="736.8" y2="100.5"/>
<line x1="738.8" y1="135.8" x2="760.4" y2="157.4"/><line x1="738.8" y1="157.4" x2="760.4" y2="135.8"/>
<line x1="762.4" y1="206.2" x2="784" y2="227.8"/><line x1="762.4" y1="227.8" x2="784" y2="206.2"/>
<line x1="786.1" y1="328.9" x2="807.7" y2="350.5"/><line x1="786.1" y1="350.5" x2="807.7" y2="328.9"/>
<line x1="809.7" y1="369.2" x2="831.3" y2="390.8"/><line x1="809.7" y1="390.8" x2="831.3" y2="369.2"/>
<line x1="833.3" y1="297.6" x2="854.9" y2="319.2"/><line x1="833.3" y1="319.2" x2="854.9" y2="297.6"/>
<line x1="856.9" y1="242.7" x2="878.5" y2="264.3"/><line x1="856.9" y1="264.3" x2="878.5" y2="242.7"/>
<line x1="880.5" y1="190.6" x2="902.1" y2="212.2"/><line x1="880.5" y1="212.2" x2="902.1" y2="190.6"/>
<line x1="904.2" y1="157.9" x2="925.8" y2="179.5"/><line x1="904.2" y1="179.5" x2="925.8" y2="157.9"/>
<line x1="927.8" y1="167.1" x2="949.4" y2="188.7"/><line x1="927.8" y1="188.7" x2="949.4" y2="167.1"/>
<line x1="951.4" y1="201" x2="973" y2="222.6"/><line x1="951.4" y1="222.6" x2="973" y2="201"/>
<line x1="975" y1="216.7" x2="996.6" y2="238.3"/><line x1="975" y1="238.3" x2="996.6" y2="216.7"/>
<line x1="998.6" y1="185.2" x2="1020.2" y2="206.8"/><line x1="998.6" y1="206.8" x2="1020.2" y2="185.2"/>
<line x1="1022.2" y1="161.9" x2="1043.8" y2="183.5"/><line x1="1022.2" y1="183.5" x2="1043.8" y2="161.9"/>
<line x1="1045.9" y1="185.2" x2="1067.5" y2="206.8"/><line x1="1045.9" y1="206.8" x2="1067.5" y2="185.2"/>
<line x1="1069.5" y1="242.7" x2="1091.1" y2="264.3"/><line x1="1069.5" y1="264.3" x2="1091.1" y2="242.7"/>
<line x1="1093.1" y1="331.5" x2="1114.7" y2="353.1"/><line x1="1093.1" y1="353.1" x2="1114.7" y2="331.5"/>
<line x1="1116.7" y1="416.2" x2="1138.3" y2="437.8"/><line x1="1116.7" y1="437.8" x2="1138.3" y2="416.2"/>
<line x1="1140.3" y1="484" x2="1161.9" y2="505.6"/><line x1="1140.3" y1="505.6" x2="1161.9" y2="484"/>
<line x1="1164" y1="561" x2="1185.6" y2="582.6"/><line x1="1164" y1="582.6" x2="1185.6" y2="561"/>
<line x1="1187.6" y1="647.1" x2="1209.2" y2="668.7"/><line x1="1187.6" y1="668.7" x2="1209.2" y2="647.1"/>
<line x1="1211.2" y1="711.1" x2="1232.8" y2="732.7"/><line x1="1211.2" y1="732.7" x2="1232.8" y2="711.1"/>
<line x1="1234.8" y1="746.2" x2="1256.4" y2="767.8"/><line x1="1234.8" y1="767.8" x2="1256.4" y2="746.2"/>
<line x1="1258.4" y1="778.2" x2="1280" y2="799.8"/><line x1="1258.4" y1="799.8" x2="1280" y2="778.2"/>
<line x1="1282.1" y1="808.2" x2="1303.7" y2="829.8"/><line x1="1282.1" y1="829.8" x2="1303.7" y2="808.2"/>
<line x1="1305.7" y1="818.8" x2="1327.3" y2="840.4"/><line x1="1305.7" y1="840.4" x2="1327.3" y2="818.8"/>
<line x1="1329.3" y1="824" x2="1350.9" y2="845.6"/><line x1="1329.3" y1="845.6" x2="1350.9" y2="824"/>
<line x1="1352.9" y1="847.7" x2="1374.5" y2="869.3"/><line x1="1352.9" y1="869.3" x2="1374.5" y2="847.7"/>
<line x1="1376.5" y1="888.2" x2="1398.1" y2="909.8"/><line x1="1376.5" y1="909.8" x2="1398.1" y2="888.2"/>
<line x1="1400.2" y1="930.2" x2="1421.8" y2="951.8"/><line x1="1400.2" y1="951.8" x2="1421.8" y2="930.2"/>
<line x1="1423.8" y1="964.8" x2="1445.4" y2="986.4"/><line x1="1423.8" y1="986.4" x2="1445.4" y2="964.8"/>
<line x1="1447.4" y1="989.2" x2="1469" y2="1010.8"/><line x1="1447.4" y1="1010.8" x2="1469" y2="989.2"/>
<line x1="1471" y1="1009.2" x2="1492.6" y2="1030.8"/><line x1="1471" y1="1030.8" x2="1492.6" y2="1009.2"/>
<line x1="1494.6" y1="1005.7" x2="1516.2" y2="1027.3"/><line x1="1494.6" y1="1027.3" x2="1516.2" y2="1005.7"/>
<line x1="1518.2" y1="986.2" x2="1539.8" y2="1007.8"/><line x1="1518.2" y1="1007.8" x2="1539.8" y2="986.2"/>
<line x1="1541.9" y1="947.6" x2="1563.5" y2="969.2"/><line x1="1541.9" y1="969.2" x2="1563.5" y2="947.6"/>
<line x1="1565.5" y1="894.1" x2="1587.1" y2="915.7"/><line x1="1565.5" y1="915.7" x2="1587.1" y2="894.1"/>
<line x1="1589.1" y1="834" x2="1610.7" y2="855.6"/><line x1="1589.1" y1="855.6" x2="1610.7" y2="834"/>
<line x1="1612.7" y1="780.5" x2="1634.3" y2="802.1"/><line x1="1612.7" y1="802.1" x2="1634.3" y2="780.5"/>
<line x1="1636.3" y1="751.8" x2="1657.9" y2="773.4"/><line x1="1636.3" y1="773.4" x2="1657.9" y2="751.8"/>
<line x1="1660" y1="758.2" x2="1681.6" y2="779.8"/><line x1="1660" y1="779.8" x2="1681.6" y2="758.2"/>
<line x1="1683.6" y1="796.2" x2="1705.2" y2="817.8"/><line x1="1683.6" y1="817.8" x2="1705.2" y2="796.2"/>
<line x1="1707.2" y1="858.8" x2="1728.8" y2="880.4"/><line x1="1707.2" y1="880.4" x2="1728.8" y2="858.8"/>
<line x1="1730.8" y1="937.2" x2="1752.4" y2="958.8"/><line x1="1730.8" y1="958.8" x2="1752.4" y2="937.2"/>
<line x1="1754.4" y1="1012.8" x2="1776" y2="1034.4"/><line x1="1754.4" y1="1034.4" x2="1776" y2="1012.8"/>
<line x1="1778.1" y1="1087.2" x2="1799.7" y2="1108.8"/><line x1="1778.1" y1="1108.8" x2="1799.7" y2="1087.2"/>
<line x1="1801.7" y1="1163.2" x2="1823.3" y2="1184.8"/><line x1="1801.7" y1="1184.8" x2="1823.3" y2="1163.2"/>
<line x1="1825.3" y1="1216.7" x2="1846.9" y2="1238.3"/><line x1="1825.3" y1="1238.3" x2="1846.9" y2="1216.7"/>
<line x1="1848.9" y1="1253.2" x2="1870.5" y2="1274.8"/><line x1="1848.9" y1="1274.8" x2="1870.5" y2="1253.2"/>
<line x1="1872.5" y1="1275.2" x2="1894.1" y2="1296.8"/><line x1="1872.5" y1="1296.8" x2="1894.1" y2="1275.2"/>
</g></g>
</g>
<g id="noag" filter="url(#fk)"><polyline class="ln k" style="stroke-width:2.8" stroke-dasharray="8.5 4.5" points="230,1050 253.6,945 277.2,849 300.9,765 324.5,693 348.1,632 371.7,580 395.3,528 419,480 442.6,446 466.2,418 489.8,401.4 513.4,383.5 537,363 560.7,340.5 584.3,328.5 607.9,323 631.5,310 655.1,300 678.8,290.5 702.4,285 726,280 749.6,271.5 773.2,263 796.9,257.5 820.5,252.2 844.1,252.2 867.7,245.7 891.3,253.5 915,258.8 938.6,258.8 962.2,256 985.8,249.6 1009.4,237.9 1033,235.3 1056.7,251 1080.3,235.3 1103.9,243 1127.5,230 1151.1,247 1174.8,226 1198.4,232.7 1222,249.6 1245.6,251.5 1269.2,244.4 1292.9,239 1316.5,238.4 1340.1,241.8 1363.7,249.6 1387.3,261.4 1411,265.3 1434.6,253.5 1458.2,235.3 1481.8,256 1505.4,278 1529,250.7 1552.7,266 1576.3,282 1599.9,258.5 1623.5,297 1647.1,259.9 1670.8,299 1694.4,273 1718,283.3 1741.6,300 1765.2,265 1788.9,300 1812.5,308 1836.1,272.7 1859.7,279 1883.3,313"/></g>
<g id="legend">
<g filter="url(#fa)"><rect x="1265.2" y="322.3" width="572.8" height="407" fill="#fff" stroke="#000" stroke-width="4.4"/></g>
<g filter="url(#fd)">
<line class="ln b" style="stroke-width:5.6" stroke-opacity="0.8" x1="1287" y1="360.8" x2="1400" y2="360.8"/>
<g class="mk b" stroke-width="3.6"><circle cx="1343.7" cy="360.8" r="14.3"/></g>
<line class="ln r" style="stroke-width:4.0" stroke-opacity="1" x1="1287" y1="426.6" x2="1400" y2="426.6"/>
<g class="mk r" stroke-width="0"><circle cx="1343.7" cy="426.6" r="14.8" fill="#ff0000" stroke="none"/></g>
<line class="ln m" style="stroke-width:3.8" stroke-opacity="1" x1="1287" y1="491.7" x2="1400" y2="491.7"/>
<g class="mk m" stroke-width="3.7"><rect x="1331.5" y="481.6" width="24.4" height="22.6"/></g>
<line class="ln c" style="stroke-width:5.6" stroke-opacity="0.85" x1="1287" y1="558.7" x2="1400" y2="558.7"/>
<g class="mk c" stroke-width="3.2"><polyline points="1343.7,539.7 1360.2,568.2 1327.2,568.2 1343.7,539.7 1360.2,568.2"/></g>
<line class="ln g" style="stroke-width:4.0" stroke-opacity="1" x1="1287" y1="624.8" x2="1400" y2="624.8"/>
<g class="mk g" stroke-width="3.0"><line x1="1332.9" y1="614" x2="1354.5" y2="635.6"/><line x1="1332.9" y1="635.6" x2="1354.5" y2="614"/></g>
</g>
<g filter="url(#fk)"><line class="ln k" style="stroke-width:2.8" stroke-dasharray="8.5 4.5" x1="1287" y1="689.6" x2="1400" y2="689.6"/></g>
<g filter="url(#ft)">
<text class="lg" x="1409.6" y="379.3">Sphere</text>
<text class="lg" x="1409.6" y="445.1">Cylinder-Sphere</text>
<text class="lg" x="1409.6" y="510.2">Cylinder</text>
<text class="lg" x="1409.6" y="577.2">Rectangle</text>
<text class="lg" x="1409.6" y="643.3">Pyramid</text>
<text class="lg" x="1409.6" y="708.1" style="font-kerning:normal">Without Ag array</text>
</g></g>
<g id="labels" filter="url(#ft)">
<text class="tk" x="230" y="1424" text-anchor="middle">400</text>
<text class="tk" x="466.2" y="1424" text-anchor="middle">500</text>
<text class="tk" x="702.4" y="1424" text-anchor="middle">600</text>
<text class="tk" x="938.6" y="1424" text-anchor="middle">700</text>
<text class="tk" x="1174.7" y="1424" text-anchor="middle">800</text>
<text class="tk" x="1410.9" y="1424" text-anchor="middle">900</text>
<text class="tk" x="1647.1" y="1424" text-anchor="middle">1000</text>
<text class="tk" x="1883.3" y="1424" text-anchor="middle">1100</text>
<text class="tk" x="217.5" y="1382.6" text-anchor="end">0</text>
<text class="tk" x="217.5" y="1195.9" text-anchor="end">0.1</text>
<text class="tk" x="217.5" y="1009.1" text-anchor="end">0.2</text>
<text class="tk" x="217.5" y="822.4" text-anchor="end">0.3</text>
<text class="tk" x="217.5" y="635.7" text-anchor="end">0.4</text>
<text class="tk" x="217.5" y="449" text-anchor="end">0.5</text>
<text class="tk" x="217.5" y="262.2" text-anchor="end">0.6</text>
<text class="tk" x="217.5" y="75.5" text-anchor="end">0.7</text>
<text class="tt" x="1056" y="1480.3" text-anchor="middle">Wavelength [nm]</text>
<text class="tt" transform="translate(117.6,712) rotate(-90)" text-anchor="middle">Transmittance</text>
</g>
</svg>
</body>
</html>
